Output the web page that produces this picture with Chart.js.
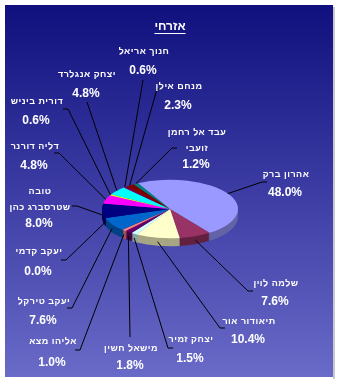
<!DOCTYPE html>
<html>
<head>
<meta charset="utf-8">
<script src="https://cdn.jsdelivr.net/npm/chart.js@4.4.0/dist/chart.umd.min.js"></script>
<style>
  body { margin: 0; background: #fff; }
  canvas { display: block; }
</style>
</head>
<body>
<canvas id="myPieChart" width="340" height="384"></canvas>
<script>
var chartTitle = 'אזרחי';
var judgeNames = ['אהרון ברק', 'שלמה לוין', 'תיאודור אור', 'יצחק זמיר', 'מישאל חשין', 'אליהו מצא',
    'יעקב טירקל', 'יעקב קדמי', 'טובה\nשטרסברג כהן', 'דליה דורנר', 'דורית ביניש', 'יצחק אנגלרד',
    'חנוך אריאל', 'מנחם אילן', 'עבד אל רחמן\nזועבי'];
var judgeShare = [48.0, 7.6, 10.4, 1.5, 1.8, 1.0, 7.6, 0.0, 8.0, 4.8, 0.6, 4.8, 0.6, 2.3, 1.2];
var sliceColors = ['#9999ff', '#993366', '#ffffcc', '#ccffff', '#660066', '#ff8080', '#0066cc', '#ccccff',
    '#000080', '#ff00ff', '#ffff00', '#00ffff', '#800080', '#800000', '#008080'];

// label layout: text centre x, first name line y, percent y, leader end x/y, tick direction
var labelPos = [
    [285, 175, 193, 262, 182, 1],
    [275, 284, 302, 248, 291, 1],
    [248, 322, 340, 220, 328, 1],
    [190, 340, 359, 168, 348, 1],
    [130, 349, 366, 130, 337, 0],
    [52, 342, 363, 80, 350, -1],
    [43, 302, 321, 72, 308, -1],
    [38, 252, 272, 66, 260, -1],
    [39, 192, 224, 77, 206, -1],
    [34, 147, 166, 59, 153, -1],
    [36, 102, 121, 68, 109, -1],
    [86, 75, 94, 87, 102, 0],
    [143, 52, 71, 143, 80, 0],
    [178, 87, 106, 157, 89, 1],
    [196, 133, 165, 172, 148, 1]
];

var flatY = 0.43;
var depth = 8;

function darker(hex, f) {
    var n = parseInt(hex.slice(1), 16);
    var r = Math.round(((n >> 16) & 255) * f);
    var g = Math.round(((n >> 8) & 255) * f);
    var b = Math.round((n & 255) * f);
    return 'rgb(' + r + ',' + g + ',' + b + ')';
}

function squash(ctx, cx, cy) {
    ctx.translate(cx, cy);
    ctx.scale(1, flatY);
    ctx.translate(-cx, -cy);
}

var backPlugin = {
    id: 'backPlugin',
    beforeDraw: function (chart) {
        var ctx = chart.ctx;
        var grad = ctx.createLinearGradient(0, 5, 0, 377);
        grad.addColorStop(0, '#10107e');
        grad.addColorStop(0.5, '#3c3ca4');
        grad.addColorStop(1, '#6a6ac8');
        ctx.save();
        ctx.fillStyle = '#c8c8d0';
        ctx.fillRect(333, 7, 2, 372);
        ctx.fillStyle = grad;
        ctx.fillRect(5, 5, 328, 372);
        // title
        ctx.fillStyle = '#fff';
        ctx.font = 'bold 12px "Liberation Sans"';
        ctx.textAlign = 'center';
        ctx.textBaseline = 'middle';
        ctx.fillText(chartTitle, 170, 27);
        var w = ctx.measureText(chartTitle).width;
        ctx.fillRect(170 - w / 2, 33, w, 1);
        ctx.restore();
    }
};

var pie3dPlugin = {
    id: 'pie3dPlugin',
    beforeDatasetsDraw: function (chart) {
        var ctx = chart.ctx;
        var arcs = chart.getDatasetMeta(0).data;
        var cx = arcs[0].x, cy = arcs[0].y;
        // side of the pie
        for (var d = depth; d >= 1; d--) {
            ctx.save();
            ctx.translate(0, d);
            squash(ctx, cx, cy);
            arcs.forEach(function (arc, i) {
                var orig = arc.options;
                arc.options = Object.assign({}, orig, {backgroundColor: darker(sliceColors[i], 0.65)});
                arc.draw(ctx);
                arc.options = orig;
            });
            ctx.restore();
        }
        ctx.save();
        squash(ctx, cx, cy);
    },
    afterDatasetsDraw: function (chart) {
        chart.ctx.restore();
    },
    afterDraw: function (chart) {
        var ctx = chart.ctx;
        var arcs = chart.getDatasetMeta(0).data;
        ctx.save();
        ctx.strokeStyle = '#000';
        ctx.lineWidth = 1;
        ctx.fillStyle = '#fff';
        ctx.textAlign = 'center';
        ctx.textBaseline = 'middle';
        arcs.forEach(function (arc, i) {
            var p = labelPos[i];
            var a = (arc.startAngle + arc.endAngle) / 2;
            var r = arc.outerRadius;
            var ex = arc.x + r * Math.cos(a);
            var ey = arc.y + r * flatY * Math.sin(a);
            if (Math.sin(a) > 0) ey += depth / 2;
            ctx.beginPath();
            ctx.moveTo(ex, ey);
            ctx.lineTo(p[3], p[4]);
            if (p[5] !== 0) ctx.lineTo(p[3] + 5 * p[5], p[4]);
            ctx.stroke();

            ctx.font = 'bold 9px "Liberation Sans"';
            ctx.letterSpacing = '0.5px';
            var lines = judgeNames[i].split('\n');
            var step = lines.length > 1 ? (p[2] - p[1]) / 2 : 0;
            lines.forEach(function (t, k) {
                ctx.fillText(t, p[0] + 1, p[1] + k * step);
            });
            ctx.letterSpacing = '0px';
            ctx.font = 'bold 12px "Liberation Sans"';
            ctx.fillText(judgeShare[i].toFixed(1) + '%', p[0], p[2]);
        });
        ctx.restore();
    }
};

var ctx1 = document.getElementById('myPieChart').getContext('2d');
new Chart(ctx1, {
    type: 'pie',
    data: {
        labels: judgeNames,
        datasets: [{
            data: judgeShare,
            backgroundColor: sliceColors,
            borderWidth: 0,
            clip: false
        }]
    },
    options: {
        responsive: false,
        animation: false,
        rotation: -28,
        layout: {
            padding: {left: 102, right: 102, top: 141, bottom: 107}
        },
        plugins: {
            legend: {display: false},
            tooltip: {enabled: false}
        }
    },
    plugins: [backPlugin, pie3dPlugin]
});
</script>
</body>
</html>
